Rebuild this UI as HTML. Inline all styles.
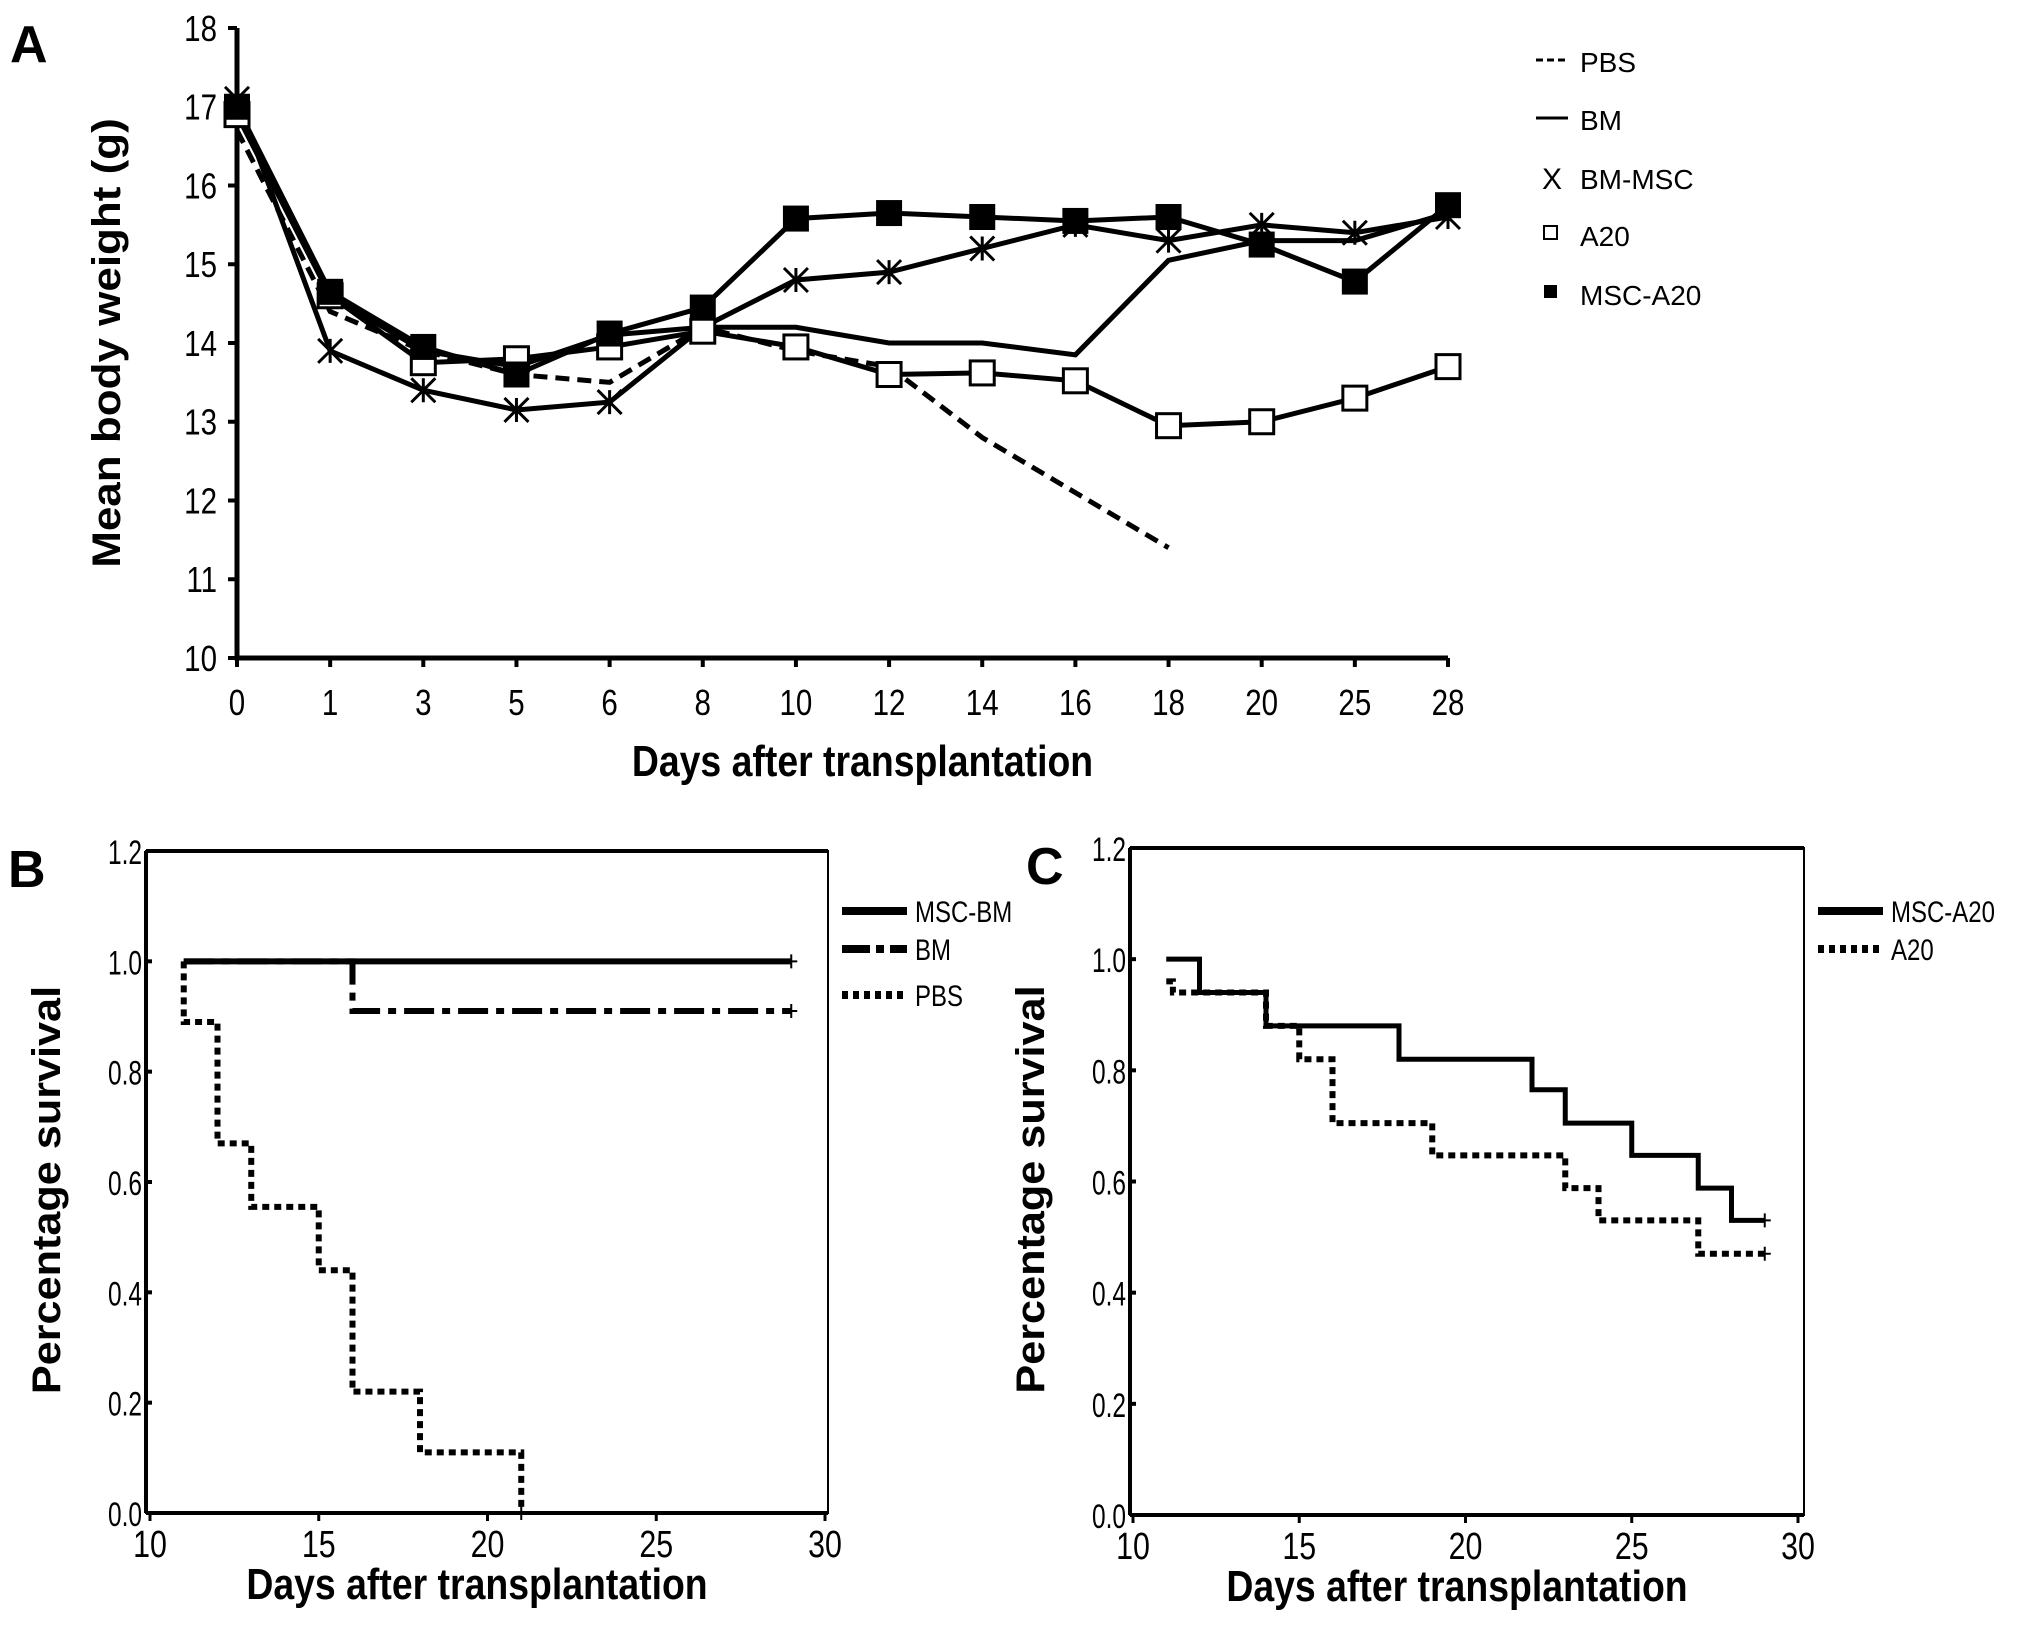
<!DOCTYPE html>
<html><head><meta charset="utf-8"><style>
html,body{margin:0;padding:0;background:#fff}
svg{display:block;font-family:"Liberation Sans",Arial,sans-serif}
</style></head><body>
<svg id="fig" width="2031" height="1631" viewBox="0 0 2031 1631" xmlns="http://www.w3.org/2000/svg">
<g id="gA"></g>
<g id="gB"></g>
<g id="gC"></g>
</svg>
<script>
// Panel A data
const daysA = ["0","1","3","5","6","8","10","12","14","16","18","20","25","28"];
const yTicksA = [10,11,12,13,14,15,16,17,18];
const pbsA = [16.7,14.4,13.9,13.6,13.5,14.2,13.9,13.7,12.8,12.1,11.4];
const bmA = [16.9,14.6,13.9,13.7,14.1,14.2,14.2,14.0,14.0,13.85,15.05,15.3,15.3,15.65];
const bmMscA = [17.1,13.9,13.4,13.15,13.25,14.2,14.8,14.9,15.2,15.5,15.3,15.5,15.4,15.6];
const a20A = [16.9,14.6,13.75,13.8,13.95,14.15,13.95,13.6,13.62,13.52,12.95,13.0,13.3,13.7];
const mscA20A = [17.0,14.65,13.95,13.6,14.12,14.45,15.58,15.65,15.6,15.55,15.6,15.25,14.78,15.75];
// Panel B data (step survival: times and values)
const xTicksKM = [10,15,20,25,30];
const yTicksKM = ["0.0","0.2","0.4","0.6","0.8","1.0","1.2"];
const mscBmT = [11,29]; const mscBmS = [1.0,1.0];
const bmT = [11,16,29]; const bmS = [1.0,0.91,0.91];
const pbsT = [11,11,12,13,15,16,18,21]; const pbsS = [1.0,0.89,0.67,0.555,0.44,0.22,0.11,0.0];
// Panel C data
const mscA20T = [11,12,14,18,22,23,25,27,28,29]; const mscA20S = [1.0,0.94,0.88,0.82,0.765,0.705,0.647,0.588,0.53,0.53];
const a20T = [11,11.2,14,15,16,19,23,24,27,29]; const a20S = [0.96,0.94,0.88,0.82,0.705,0.647,0.588,0.53,0.47,0.47];

const NS="http://www.w3.org/2000/svg";
function mk(p,tag,at,txt){const e=document.createElementNS(NS,tag);for(const k in at)e.setAttribute(k,at[k]);if(txt!==undefined)e.textContent=txt;p.appendChild(e);return e;}
function cond(x,s){return `translate(${x},0) scale(${s},1) translate(${-x},0)`;}

// ---------- Panel A ----------
const gA=document.getElementById('gA');
const ax0=237, axStep=(1448-237)/13, ayTop=28, ayBot=658;
const xA=i=>ax0+i*axStep;
const yA=v=>ayBot-(v-10)/8*(ayBot-ayTop);
let t=mk(gA,'text',{x:10,y:62,'font-size':52,'font-weight':'bold'},'A');


let ax=mk(gA,'path',{d:`M${ax0} ${ayTop} V${ayBot} H${xA(13)}`,stroke:'#000','stroke-width':5,fill:'none'});


yTicksA.forEach(v=>{
  mk(gA,'line',{x1:ax0-9,x2:ax0,y1:yA(v),y2:yA(v),stroke:'#000','stroke-width':4});
  const e=mk(gA,'text',{x:ax0-20,y:yA(v)+13,'font-size':36,'text-anchor':'end',transform:cond(ax0-20,0.82)},String(v));
  
  
});
daysA.forEach((d,i)=>{
  mk(gA,'line',{x1:xA(i),x2:xA(i),y1:ayBot,y2:ayBot+9,stroke:'#000','stroke-width':4});
  const e=mk(gA,'text',{x:xA(i),y:715,'font-size':36,'text-anchor':'middle',transform:cond(xA(i),0.82)},d);
  
  
});
t=mk(gA,'text',{x:xA(6.5)+20,y:776,'font-size':44,'font-weight':'bold','text-anchor':'middle',transform:cond(xA(6.5)+20,0.85)},'Days after transplantation');


t=mk(gA,'text',{x:0,y:0,'font-size':40,'font-weight':'bold','text-anchor':'middle',transform:'translate(120,343) rotate(-90) scale(1.1,1)'},'Mean body weight (g)');


function lineA(arr,dash,name){
  const pts=arr.map((v,i)=>`${xA(i)},${yA(v)}`).join(' ');
  const e=mk(gA,'polyline',{points:pts,fill:'none',stroke:'#000','stroke-width':5,'stroke-dasharray':dash||'none'});
  
  
}
lineA(bmA,null,'series-bm');
lineA(pbsA,'14 8','series-pbs');
lineA(bmMscA,null,'series-bm-msc');
lineA(a20A,null,'series-a20');
lineA(mscA20A,null,'series-msc-a20');
bmMscA.forEach((v,i)=>{const x=xA(i),y=yA(v),s=12;
  const e=mk(gA,'path',{d:`M${x-s} ${y-s}L${x+s} ${y+s}M${x-s} ${y+s}L${x+s} ${y-s}M${x} ${y-s}V${y+s}`,stroke:'#000','stroke-width':3});
  
  });
a20A.forEach((v,i)=>{
  const e=mk(gA,'rect',{x:xA(i)-12,y:yA(v)-12,width:24,height:24,fill:'#fff',stroke:'#000','stroke-width':3});
  
  });
mscA20A.forEach((v,i)=>{
  const e=mk(gA,'rect',{x:xA(i)-12,y:yA(v)-12,width:24,height:24,fill:'#000',stroke:'#000','stroke-width':2});
  
  });
// legend A
const legA=[['PBS',62],['BM',120],['BM-MSC',179],['A20',236],['MSC-A20',295]];
legA.forEach(([lab,y],k)=>{
  if(k===0) mk(gA,'line',{x1:1536,x2:1568,y1:y-2,y2:y-2,stroke:'#000','stroke-width':3,'stroke-dasharray':'7 4'});
  if(k===1) mk(gA,'line',{x1:1536,x2:1568,y1:y-2,y2:y-2,stroke:'#000','stroke-width':3});
  if(k===2) mk(gA,'text',{x:1542,y:y+10,'font-size':30},'X');
  if(k===3) mk(gA,'rect',{x:1544,y:y-10,width:13,height:13,fill:'#fff',stroke:'#000','stroke-width':2});
  if(k===4) mk(gA,'rect',{x:1544,y:y-10,width:13,height:13,fill:'#000'});
  const e=mk(gA,'text',{x:1580,y:y+10,'font-size':28},lab);
  
  
});

// ---------- KM panels ----------
function kmPanel(g,box,letter,lx,legend,series){
  const {l,r,t:tp,b,x10,x30}=box;
  const X=v=>x10+(v-10)/20*(x30-x10);
  const Y=v=>b-v/1.2*(b-tp);
  let e=mk(g,'text',{x:lx,y:tp+36,'font-size':52,'font-weight':'bold'},letter);
  
  
  e=mk(g,'rect',{x:l,y:tp,width:r-l,height:b-tp,fill:'none',stroke:'#000','stroke-width':2});
  
  
  mk(g,'line',{x1:l,x2:r,y1:tp,y2:tp,stroke:'#000','stroke-width':4});
  mk(g,'line',{x1:l,x2:r,y1:b,y2:b,stroke:'#000','stroke-width':4});
  mk(g,'line',{x1:l,x2:l,y1:tp,y2:b,stroke:'#000','stroke-width':4});
  yTicksKM.forEach(s=>{const v=parseFloat(s);
    mk(g,'line',{x1:l,x2:l+6,y1:Y(v),y2:Y(v),stroke:'#000','stroke-width':4});
    const e=mk(g,'text',{x:l-4,y:Y(v)+13,'font-size':34,'text-anchor':'end',transform:cond(l-4,0.72)},s);
    
    });
  xTicksKM.forEach(v=>{
    mk(g,'line',{x1:X(v),x2:X(v),y1:b,y2:b+8,stroke:'#000','stroke-width':3});
    const e=mk(g,'text',{x:X(v),y:b+44,'font-size':38,'text-anchor':'middle',transform:cond(X(v),0.8)},String(v));
    
    });
  e=mk(g,'text',{x:(l+r)/2-10,y:b+86,'font-size':44,'font-weight':'bold','text-anchor':'middle',transform:cond((l+r)/2-10,0.85)},'Days after transplantation');
  
  
  e=mk(g,'text',{x:0,y:0,'font-size':40,'font-weight':'bold','text-anchor':'middle',transform:`translate(${l-86},${(tp+b)/2+8}) rotate(-90) scale(1.08,1)`},'Percentage survival');
  
  
  series.forEach(([T,S,dash,w,name])=>{
    let d=`M${X(T[0])} ${Y(S[0])}`;
    for(let i=1;i<T.length;i++){d+=` H${X(T[i])} V${Y(S[i])}`;}
    const e=mk(g,'path',{d,fill:'none',stroke:'#000','stroke-width':w,'stroke-dasharray':dash});
    
    
    const last=T.length-1;
    mk(g,'path',{d:`M${X(T[last])-6} ${Y(S[last])}h12M${X(T[last])} ${Y(S[last])-7}v14`,stroke:'#000','stroke-width':2});
  });
  legend.forEach(([lab,y,dash])=>{
    mk(g,'line',{x1:r+14,x2:r+79,y1:y,y2:y,stroke:'#000','stroke-width':8,'stroke-dasharray':dash});
    const e=mk(g,'text',{x:r+87,y:y+11,'font-size':30,transform:cond(r+87,0.8)},lab);
    
    
  });
}
kmPanel(document.getElementById('gB'),{l:146,r:828,t:851,b:1513,x10:150,x30:825},'B',8,
  [['MSC-BM',911,'none'],['BM',949,'28 6 8 6'],['PBS',995,'6 5']],
  [[mscBmT,mscBmS,'none',6,'series-msc-bm'],[bmT,bmS,'30 8 8 8',6,'series-bm'],[pbsT,pbsS,'7 5',6,'series-pbs']]);
kmPanel(document.getElementById('gC'),{l:1130,r:1804,t:848,b:1515,x10:1133,x30:1798},'C',1026,
  [['MSC-A20',911,'none'],['A20',949,'6 5']],
  [[mscA20T,mscA20S,'none',5,'series-msc-a20'],[a20T,a20S,'7 5',6,'series-a20']]);
</script>
</body></html>
